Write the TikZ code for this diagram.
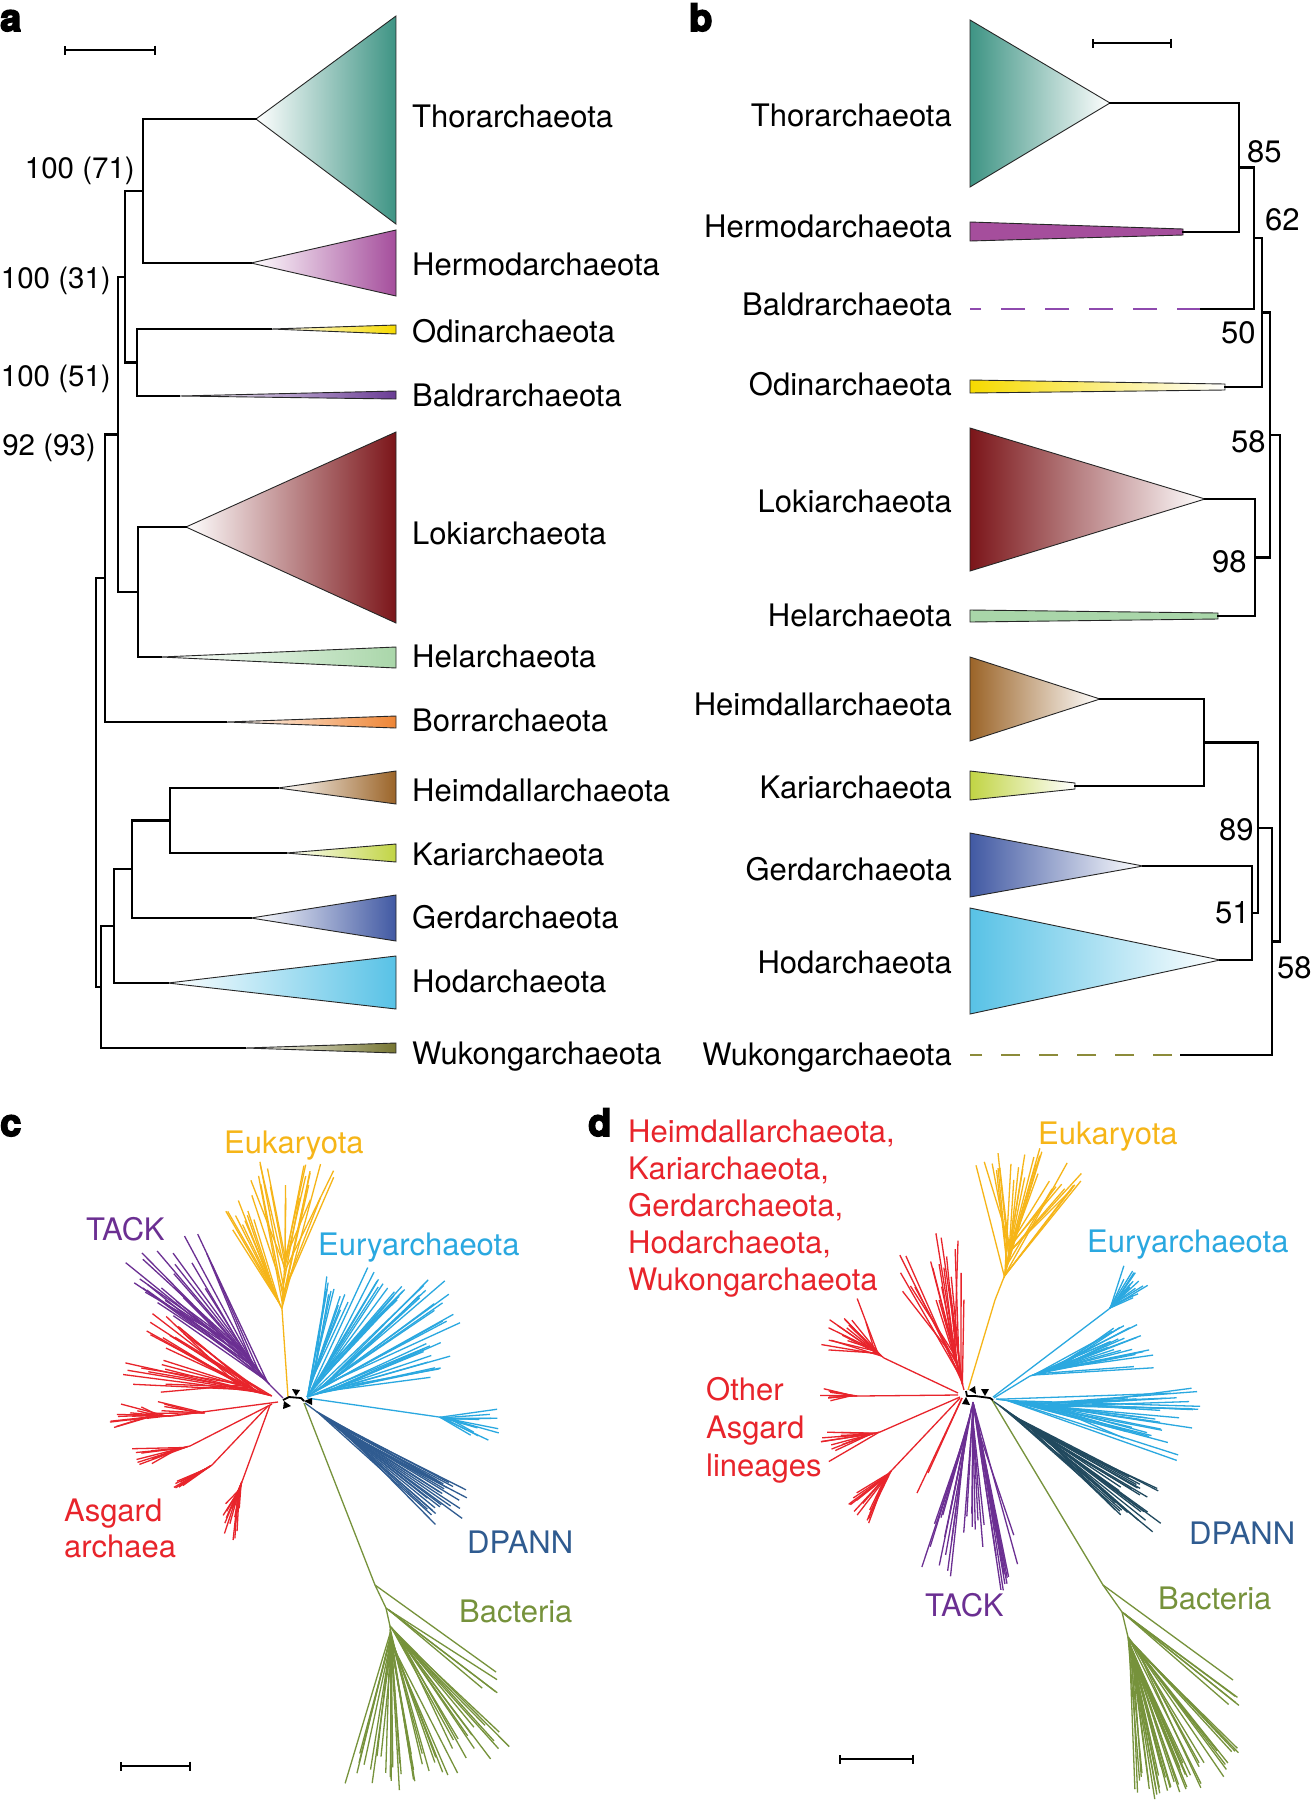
\documentclass[tikz,border=0pt]{standalone}
\usepackage{fontspec}
\setmainfont{TeX Gyre Heros}[BoldFeatures={FakeBold=4}]
\usetikzlibrary{arrows.meta}
\definecolor{cThor}{HTML}{3E9484}
\definecolor{cHerm}{HTML}{A54E9C}
\definecolor{cOdin}{HTML}{F6DA00}
\definecolor{cBald}{HTML}{6A3C95}
\definecolor{cLoki}{HTML}{7B1519}
\definecolor{cHel}{HTML}{A9D6A9}
\definecolor{cBorr}{HTML}{EE8535}
\definecolor{cHeim}{HTML}{9B6428}
\definecolor{cKari}{HTML}{C1D444}
\definecolor{cGerd}{HTML}{4159A3}
\definecolor{cHod}{HTML}{58C2E6}
\definecolor{cWuk}{HTML}{767531}
\definecolor{cBaldD}{HTML}{8E4AAE}
\definecolor{cWukD}{HTML}{8C8B3A}
\definecolor{cRed}{HTML}{E8242B}
\definecolor{cYel}{HTML}{F6B518}
\definecolor{cBlu}{HTML}{2AA8E0}
\definecolor{cPur}{HTML}{6B2F92}
\definecolor{cDpa}{HTML}{2F5B90}
\definecolor{cDpaD}{HTML}{21495E}
\definecolor{cBac}{HTML}{76923B}
\tikzset{
  tree/.style={line width=2.3pt, line join=miter, line cap=rect},
  tri/.style={draw=black!85, line width=0.9pt, line join=miter},
  lab/.style={font=\fontsize{31}{37}\selectfont, inner sep=0pt},
  sup/.style={font=\fontsize{29.5}{35}\selectfont, inner sep=0pt, anchor=base east},
  plet/.style={font=\fontsize{38}{40}\selectfont\bfseries, inner sep=0pt, anchor=base west},
  sbar/.style={line width=2pt, {Bar[width=9pt,line width=2pt]}-{Bar[width=9pt,line width=2pt]}},
  brY/.style={cYel, line width=1.3pt},
  brP/.style={cPur, line width=1.3pt},
  brR/.style={cRed, line width=1.3pt},
  brB/.style={cBlu, line width=1.3pt},
  brD/.style={cDpa, line width=1.3pt},
  brDd/.style={cDpaD, line width=1.3pt},
  brG/.style={cBac, line width=1.3pt},
  arr/.style={fill=black},
}
\newcommand\bush[9]{%
  \foreach \bk in {1,...,#8}{%
    \pgfmathsetmacro\bAng{#4+(#5-#4)*rnd}%
    \pgfmathsetmacro\bLen{#6+(#7-#6)*rnd}%
    \pgfmathsetmacro\bJit{#9*rnd}%
    \pgfmathsetmacro\bMid{(#4+#5)/2}%
    \pgfmathsetmacro\bSx{#2+\bJit*cos(\bMid)}%
    \pgfmathsetmacro\bSy{#3+\bJit*sin(\bMid)}%
    \pgfmathsetmacro\bEx{#2+\bLen*cos(\bAng)}%
    \pgfmathsetmacro\bEy{#3+\bLen*sin(\bAng)}%
    \draw[#1] (\bSx,\bSy) -- (\bEx,\bEy);
  }%
  \draw[#1] (#2,#3) -- +({(#4+#5)/2}:#9);%
}
\begin{document}
\begin{tikzpicture}[x=1pt,y=-1pt]
\pgfmathsetseed{7}
\fill[white] (0,0) rectangle (1311,1800);
\useasboundingbox (0,0) rectangle (1311,1800);

% ================= panel a =================
\node[plet] (la) at (0,31) {a};
\coordinate (sa1) at (64,50); \coordinate (sa2) at (156,50);
\draw[sbar] (sa1) -- (sa2);

\coordinate (aThor) at (256,119);
\coordinate (aHerm) at (251,263);
\coordinate (aOdin) at (271,329);
\coordinate (aBald) at (179,396);
\coordinate (aLoki) at (186,527);
\coordinate (aHel)  at (161,657);
\coordinate (aBorr) at (226,722);
\coordinate (aHeim) at (278,788);
\coordinate (aKari) at (286,853);
\coordinate (aGerd) at (251,918);
\coordinate (aHod)  at (168,983);
\coordinate (aWuk)  at (245,1048);

\shadedraw[tri, left color=white, right color=cThor] (aThor) -- (396,16) -- (396,224) -- cycle;
\shadedraw[tri, left color=white, right color=cHerm] (aHerm) -- (396,230) -- (396,296) -- cycle;
\shadedraw[tri, left color=white, right color=cOdin] (aOdin) -- (396,325) -- (396,334) -- cycle;
\shadedraw[tri, left color=white, right color=cBald] (aBald) -- (396,391) -- (396,399) -- cycle;
\shadedraw[tri, left color=white, right color=cLoki] (aLoki) -- (396,432) -- (396,623) -- cycle;
\shadedraw[tri, left color=white, right color=cHel] (aHel) -- (396,647) -- (396,668) -- cycle;
\shadedraw[tri, left color=white, right color=cBorr] (aBorr) -- (396,716) -- (396,728) -- cycle;
\shadedraw[tri, left color=white, right color=cHeim] (aHeim) -- (396,771) -- (396,804) -- cycle;
\shadedraw[tri, left color=white, right color=cKari] (aKari) -- (396,844) -- (396,862) -- cycle;
\shadedraw[tri, left color=white, right color=cGerd] (aGerd) -- (396,895) -- (396,941) -- cycle;
\shadedraw[tri, left color=white, right color=cHod] (aHod) -- (396,956) -- (396,1009) -- cycle;
\shadedraw[tri, left color=white, right color=cWuk] (aWuk) -- (396,1043) -- (396,1053) -- cycle;

\coordinate (n1) at (143,191);
\coordinate (n2) at (137,362.5);
\coordinate (n3) at (125,276.75);
\coordinate (n5) at (138,592);
\coordinate (n4) at (118,434.4);
\coordinate (n6) at (105,578.2);
\coordinate (n7) at (170,820.5);
\coordinate (n8) at (132,869.25);
\coordinate (n9) at (114,926.1);
\coordinate (n10) at (101,987);
\coordinate (n11) at (96,782.6);

\draw[tree] (aThor) -| (n1) |- (aHerm);
\draw[tree] (aOdin) -| (n2) |- (aBald);
\draw[tree] (n1) -| (n3) |- (n2);
\draw[tree] (aLoki) -| (n5) |- (aHel);
\draw[tree] (n3) -| (n4) |- (n5);
\draw[tree] (n4) -| (n6) |- (aBorr);
\draw[tree] (aHeim) -| (n7) |- (aKari);
\draw[tree] (n7) -| (n8) |- (aGerd);
\draw[tree] (n8) -| (n9) |- (aHod);
\draw[tree] (n9) -| (n10) |- (aWuk);
\draw[tree] (n6) -| (n11) |- (n10);

\node[sup] (s71) at (135,178) {100 (71)};
\node[sup] (s31) at (111,288) {100 (31)};
\node[sup] (s51) at (111,386) {100 (51)};
\node[sup] (s93) at (96,455) {92 (93)};

\node[lab, anchor=base west] (tA1) at (412,127) {Thorarchaeota};
\node[lab, anchor=base west] (tA2) at (412,275) {Hermodarchaeota};
\node[lab, anchor=base west] (tA3) at (412,342) {Odinarchaeota};
\node[lab, anchor=base west] (tA4) at (412,406) {Baldrarchaeota};
\node[lab, anchor=base west] (tA5) at (412,544) {Lokiarchaeota};
\node[lab, anchor=base west] (tA6) at (412,667) {Helarchaeota};
\node[lab, anchor=base west] (tA7) at (412,731) {Borrarchaeota};
\node[lab, anchor=base west] (tA8) at (412,801) {Heimdallarchaeota};
\node[lab, anchor=base west] (tA9) at (412,865) {Kariarchaeota};
\node[lab, anchor=base west] (tA10) at (412,928) {Gerdarchaeota};
\node[lab, anchor=base west] (tA11) at (412,992) {Hodarchaeota};
\node[lab, anchor=base west] (tA12) at (412,1064) {Wukongarchaeota};

% ================= panel b =================
\node[plet] (lb) at (689,31) {b};
\coordinate (sb1) at (1092,43); \coordinate (sb2) at (1172,43);
\draw[sbar] (sb1) -- (sb2);

\coordinate (bThor) at (1110,103);
\coordinate (bHerm) at (1183,232);
\coordinate (bBaldS) at (1201,309);
\coordinate (bBaldE) at (970,309);
\coordinate (bOdin) at (1225,387);
\coordinate (bLoki) at (1205,499);
\coordinate (bHel)  at (1218,616);
\coordinate (bHeim) at (1100,699);
\coordinate (bKari) at (1075,786);
\coordinate (bGerd) at (1143,866);
\coordinate (bHod)  at (1220,960);
\coordinate (bWukS) at (1181,1055);
\coordinate (bWukD) at (1172,1055);
\coordinate (bWukE) at (970,1055);

\shadedraw[tri, left color=cThor, right color=white] (bThor) -- (970,20) -- (970,187) -- cycle;
\filldraw[tri, fill=cHerm] (1183,229) -- (970,222) -- (970,241) -- (1183,235) -- cycle;
\shadedraw[tri, left color=cOdin, right color=white] (1225,384) -- (970,380) -- (970,393) -- (1225,390) -- cycle;
\shadedraw[tri, left color=cLoki, right color=white] (bLoki) -- (970,428) -- (970,571) -- cycle;
\filldraw[tri, fill=cHel] (1218,613) -- (970,610) -- (970,622) -- (1218,619) -- cycle;
\shadedraw[tri, left color=cHeim, right color=white] (bHeim) -- (970,657) -- (970,741) -- cycle;
\shadedraw[tri, left color=cKari, right color=white] (1075,783) -- (970,771) -- (970,800) -- (1075,789) -- cycle;
\shadedraw[tri, left color=cGerd, right color=white] (bGerd) -- (970,833) -- (970,897) -- cycle;
\shadedraw[tri, left color=cHod, right color=white] (bHod) -- (970,908) -- (970,1014) -- cycle;

\draw[cBaldD, line width=2.6pt, dash pattern=on 24pt off 20pt] (bBaldS) -- (bBaldE);
\draw[cWukD, line width=2.6pt, dash pattern=on 19pt off 19pt] (bWukD) -- (bWukE);

\coordinate (m1) at (1239,167.5);
\coordinate (m2) at (1254,238);
\coordinate (m3) at (1262,312.5);
\coordinate (m4) at (1255,557.5);
\coordinate (m5) at (1270,435);
\coordinate (m6) at (1204,742.5);
\coordinate (m7) at (1252,913);
\coordinate (m8) at (1258,827.75);
\coordinate (m9) at (1272,941.4);
\coordinate (m10) at (1280,688);

\draw[tree] (bThor) -| (m1) |- (bHerm);
\draw[tree] (m1) -| (m2) |- (bBaldS);
\draw[tree] (m2) -| (m3) |- (bOdin);
\draw[tree] (bLoki) -| (m4) |- (bHel);
\draw[tree] (m3) -| (m5) |- (m4);
\draw[tree] (bHeim) -| (m6) |- (bKari);
\draw[tree] (bGerd) -| (m7) |- (bHod);
\draw[tree] (m6) -| (m8) |- (m7);
\draw[tree] (m8) -| (m9) |- (bWukS);
\draw[tree] (m5) -| (m10) |- (m9);

\node[lab, anchor=base west] (s85) at (1247,162) {85};
\node[lab, anchor=base west] (s62) at (1265,230) {62};
\node[lab, anchor=base west] (s50) at (1221,343) {50};
\node[lab, anchor=base west] (s58a) at (1231,452) {58};
\node[lab, anchor=base west] (s98) at (1212,572) {98};
\node[lab, anchor=base west] (s89) at (1219,840) {89};
\node[lab, anchor=base west] (s51b) at (1215,923) {51};
\node[lab, anchor=base west] (s58b) at (1277,978) {58};

\node[lab, anchor=base east] (tB1) at (952,126) {Thorarchaeota};
\node[lab, anchor=base east] (tB2) at (952,237) {Hermodarchaeota};
\node[lab, anchor=base east] (tB3) at (952,315) {Baldrarchaeota};
\node[lab, anchor=base east] (tB4) at (952,395) {Odinarchaeota};
\node[lab, anchor=base east] (tB5) at (952,512) {Lokiarchaeota};
\node[lab, anchor=base east] (tB6) at (952,626) {Helarchaeota};
\node[lab, anchor=base east] (tB7) at (952,715) {Heimdallarchaeota};
\node[lab, anchor=base east] (tB8) at (952,798) {Kariarchaeota};
\node[lab, anchor=base east] (tB9) at (952,880) {Gerdarchaeota};
\node[lab, anchor=base east] (tB10) at (952,973) {Hodarchaeota};
\node[lab, anchor=base east] (tB11) at (952,1065) {Wukongarchaeota};

% ================= panel c =================
\node[plet] (lc) at (0,1136) {c};
\coordinate (sc1) at (120,1766); \coordinate (sc2) at (191,1766);
\draw[sbar] (sc1) -- (sc2);

% Eukaryota
\draw[brY] (288,1397) -- (282,1309);
\bush{brY}{282}{1309}{-124}{-105}{90}{118}{10}{40}
\bush{brY}{282}{1309}{-105}{-68}{110}{150}{22}{55}
% TACK
\draw[brP] (283,1398) -- (270,1385);
\bush{brP}{270}{1385}{-145}{-112}{115}{195}{26}{50}
% Asgard
\bush{brR}{272}{1396}{-178}{-143}{105}{152}{24}{40}
\draw[brR] (278,1402) -- (172,1416);
\bush{brR}{172}{1416}{165}{200}{30}{65}{14}{20}
\bush{brR}{205}{1413}{170}{195}{40}{60}{6}{10}
\draw[brR] (272,1404) -- (190,1446);
\bush{brR}{190}{1446}{155}{178}{35}{60}{10}{15}
\draw[brR] (268,1406) -- (212,1465);
\bush{brR}{212}{1465}{138}{160}{25}{45}{8}{10}
\draw[brR] (270,1405) -- (243,1479);
\bush{brR}{243}{1479}{95}{128}{25}{65}{20}{15}
% Euryarchaeota
\bush{brB}{307}{1397}{-82}{-65}{90}{125}{12}{30}
\bush{brB}{307}{1397}{-65}{-45}{125}{150}{14}{45}
\bush{brB}{307}{1397}{-45}{-25}{150}{182}{14}{45}
\bush{brB}{307}{1397}{-25}{-8}{120}{150}{12}{40}
\draw[brB] (307,1398) -- (439,1417);
\bush{brB}{439}{1417}{-8}{30}{35}{62}{12}{12}
% DPANN
\bush{brD}{305}{1403}{28}{45}{150}{195}{24}{60}
% Bacteria
\draw[brG] (304,1403) -- (375,1585) -- (386,1608) -- (390,1626);
\draw[brG] (375,1585) -- (496,1672);
\bush{brG}{386}{1608}{32}{40}{125}{140}{4}{5}
\bush{brG}{390}{1626}{38}{65}{130}{170}{14}{20}
\bush{brG}{390}{1626}{65}{106}{130}{165}{30}{25}
% centre
\draw[black, line width=1.8pt, line join=round] (283,1400) -- (289,1397) -- (301,1398) -- (304,1401);
\fill[arr] (284,1401) -- (283,1409) -- (291,1406) -- cycle;
\fill[arr] (296,1396) -- (292,1389) -- (300,1390) -- cycle;
\fill[arr] (304,1401) -- (312,1398) -- (312,1405) -- cycle;

\node[lab, anchor=base west, text=cYel] (cEuk) at (224,1153) {Eukaryota};
\node[lab, anchor=base west, text=cPur] (cTack) at (86,1240) {TACK};
\node[lab, anchor=base west, text=cBlu] (cEury) at (318,1255) {Euryarchaeota};
\node[lab, anchor=base west, text=cRed] (cAsg1) at (64,1521) {Asgard};
\node[lab, anchor=base west, text=cRed] (cAsg2) at (64,1557) {archaea};
\node[lab, anchor=base west, text=cDpa] (cDp) at (467,1553) {DPANN};
\node[lab, anchor=base west, text=cBac] (cBa) at (459,1622) {Bacteria};

% ================= panel d =================
\node[plet] (ld) at (588,1136) {d};
\coordinate (sd1) at (839,1759); \coordinate (sd2) at (914,1759);
\draw[sbar] (sd1) -- (sd2);

% Eukaryota
\draw[brY] (968,1390) -- (995,1300) -- (1006,1272);
\bush{brY}{1004}{1278}{-105}{-50}{95}{135}{30}{40}
% red upper
\bush{brR}{964}{1390}{-122}{-88}{90}{160}{22}{45}
% other Asgard
\draw[brR] (958,1393) -- (884,1358);
\bush{brR}{884}{1358}{-172}{-110}{40}{70}{16}{15}
\draw[brR] (958,1395) -- (858,1396);
\bush{brR}{858}{1396}{170}{195}{25}{38}{8}{8}
\draw[brR] (960,1397) -- (880,1432);
\bush{brR}{880}{1432}{150}{185}{35}{60}{12}{12}
\draw[brR] (960,1398) -- (892,1470);
\bush{brR}{892}{1470}{112}{150}{30}{60}{14}{12}
\draw[brR] (962,1398) -- (917,1493);
\draw[brR] (962,1398) -- (928,1473);
% TACK
\bush{brP}{973}{1402}{95}{110}{110}{178}{12}{40}
\bush{brP}{973}{1402}{84}{95}{110}{150}{8}{40}
\bush{brP}{973}{1402}{72}{84}{130}{200}{12}{40}
% Euryarchaeota
\draw[brB] (993,1397) -- (1109,1309);
\bush{brB}{1109}{1309}{-72}{-25}{25}{46}{16}{10}
\draw[brB] (994,1398) -- (1030,1376);
\bush{brB}{1030}{1376}{-30}{-2}{80}{125}{22}{30}
\bush{brB}{996}{1399}{-4}{19}{130}{205}{30}{60}
% DPANN
\bush{brDd}{993}{1401}{28}{42}{150}{210}{25}{70}
% Bacteria
\draw[brG] (992,1400) -- (1103,1585) -- (1122,1612) -- (1128,1637);
\draw[brG] (1103,1585) -- (1233,1680);
\bush{brG}{1122}{1612}{35}{41}{135}{150}{5}{5}
\bush{brG}{1128}{1637}{44}{65}{140}{170}{14}{20}
\bush{brG}{1128}{1637}{65}{89}{130}{165}{30}{25}
% centre
\draw[black, line width=1.8pt, line join=round] (966,1391) -- (967,1396) -- (975,1396) -- (990,1398) -- (993,1400);
\fill[arr] (966,1397) -- (962,1404) -- (970,1405) -- cycle;
\fill[arr] (976,1394) -- (969,1390) -- (975,1386) -- cycle;
\fill[arr] (985,1396) -- (981,1389) -- (989,1389) -- cycle;

\node[lab, anchor=base west, text=cRed] (dR1) at (628,1142) {Heimdallarchaeota,};
\node[lab, anchor=base west, text=cRed] (dR2) at (628,1179) {Kariarchaeota,};
\node[lab, anchor=base west, text=cRed] (dR3) at (628,1216) {Gerdarchaeota,};
\node[lab, anchor=base west, text=cRed] (dR4) at (628,1253) {Hodarchaeota,};
\node[lab, anchor=base west, text=cRed] (dR5) at (628,1290) {Wukongarchaeota};
\node[lab, anchor=base west, text=cYel] (dEuk) at (1038,1144) {Eukaryota};
\node[lab, anchor=base west, text=cBlu] (dEury) at (1087,1252) {Euryarchaeota};
\node[lab, anchor=base west, text=cRed] (dO1) at (706,1400) {Other};
\node[lab, anchor=base west, text=cRed] (dO2) at (706,1438) {Asgard};
\node[lab, anchor=base west, text=cRed] (dO3) at (706,1476) {lineages};
\node[lab, anchor=base west, text=cPur] (dTack) at (925,1616) {TACK};
\node[lab, anchor=base west, text=cDpa] (dDp) at (1189,1544) {DPANN};
\node[lab, anchor=base west, text=cBac] (dBa) at (1158,1609) {Bacteria};
\end{tikzpicture}
\end{document}
